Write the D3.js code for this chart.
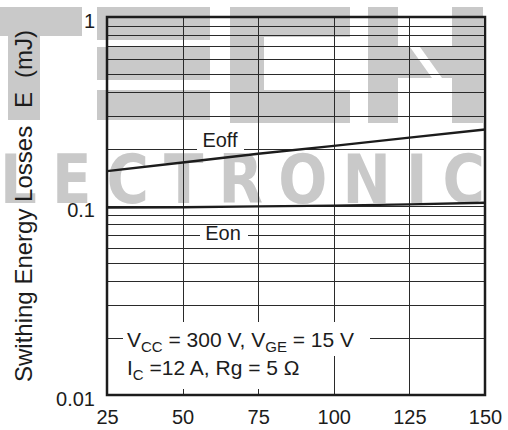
<!DOCTYPE html>
<html>
<head>
<meta charset="utf-8">
<script src="https://cdn.jsdelivr.net/npm/d3@7"></script>
<style>
  html, body { margin: 0; padding: 0; background: #fff; }
  svg { display: block; font-family: "Liberation Sans", Arial, sans-serif; }
</style>
</head>
<body>
<svg id="chart" width="508" height="430"></svg>
<script>
// Junction temperature (°C) and switching energy (mJ)
const temps = [25, 50, 75, 100, 125, 150];
const eoff  = [0.153, 0.170, 0.189, 0.208, 0.230, 0.254];
const eon   = [0.098, 0.0985, 0.0995, 0.1005, 0.102, 0.104];

const xTicks = [25, 50, 75, 100, 125, 150];
const yTicks = [0.01, 0.1, 1];
const yTickLabels = ["0.01", "0.1", "1"];

const svg = d3.select("#chart");
const plot = { left: 107, right: 485, top: 17, bottom: 395 };

const x = d3.scaleLinear().domain([25, 150]).range([plot.left, plot.right]);
const y = d3.scaleLog().domain([0.01, 1]).range([plot.bottom, plot.top]);

const ink = "#1c1c1c";
const wmColor = "#c9c9c9";

// ---- background watermark ----
const wm = svg.append("g").attr("class", "watermark").attr("fill", wmColor);
const wmBlocks = [
  // T
  [0, 7, 82, 29], [8, 36, 32, 84],
  // E
  [97, 7, 113, 33], [97, 47, 113, 33], [97, 90, 113, 30],
  // C
  [230, 7, 120, 30], [230, 37, 34, 53], [230, 90, 120, 33],
  // N
  [368, 7, 30, 116], [452, 7, 31, 116], [398, 47, 54, 31]
];
wm.selectAll("rect").data(wmBlocks).join("rect")
  .attr("x", d => d[0]).attr("y", d => d[1])
  .attr("width", d => d[2]).attr("height", d => d[3]);
wm.append("polygon").attr("fill", "#fff")
  .attr("points", "410,47 420,47 442,78 432,78");

const wmScale = 0.85;
wm.append("g").attr("transform", `translate(0,203) scale(${wmScale},1)`)
  .append("text")
  .attr("font-family", "'DejaVu Sans', sans-serif")
  .attr("font-weight", "bold")
  .attr("font-size", 68)
  .attr("textLength", 485 / wmScale)
  .attr("lengthAdjust", "spacing")
  .text("LECTRONIC");

// ---- grid ----
const grid = svg.append("g").attr("stroke", "#2a2a2a").attr("stroke-width", 1);
const hVals = y.ticks().filter(v => v > 0.0100001 && v < 0.99999);
grid.selectAll("line.h").data(hVals).join("line").attr("class", "h")
  .attr("x1", plot.left).attr("x2", plot.right)
  .attr("y1", d => Math.round(y(d)) + 0.5).attr("y2", d => Math.round(y(d)) + 0.5);
grid.selectAll("line.v").data(xTicks.slice(1, -1)).join("line").attr("class", "v")
  .attr("y1", plot.top).attr("y2", plot.bottom)
  .attr("x1", d => Math.round(x(d)) + 0.5).attr("x2", d => Math.round(x(d)) + 0.5);

// white panels behind the in-plot labels
const panels = svg.append("g").attr("fill", "#fff");
[[197, 142, 47, 10], [200, 229, 48, 14], [123, 322, 247, 34], [123, 356, 189, 33]]
  .forEach(b => panels.append("rect").attr("x", b[0]).attr("y", b[1]).attr("width", b[2]).attr("height", b[3]));

// ---- curves ----
const line = d3.line().x(d => x(d[0])).y(d => y(d[1]));
svg.append("path").datum(temps.map((t, i) => [t, eoff[i]]))
  .attr("d", line).attr("fill", "none").attr("stroke", ink).attr("stroke-width", 2.4);
svg.append("path").datum(temps.map((t, i) => [t, eon[i]]))
  .attr("d", line).attr("fill", "none").attr("stroke", ink).attr("stroke-width", 2.4);

// ---- frame ----
svg.append("rect")
  .attr("x", plot.left).attr("y", plot.top)
  .attr("width", plot.right - plot.left).attr("height", plot.bottom - plot.top)
  .attr("fill", "none").attr("stroke", ink).attr("stroke-width", 2.5);

// ---- axes ----
const xAxis = d3.axisBottom(x).tickValues(xTicks).tickSize(0).tickPadding(0);
const gx = svg.append("g").attr("transform", `translate(0,${plot.bottom})`).call(xAxis);
gx.select(".domain").remove();
gx.selectAll("text").attr("font-size", 20).attr("fill", ink)
  .attr("font-family", "'Liberation Sans', Arial, sans-serif")
  .attr("dy", null).attr("y", 29);

const yAxis = d3.axisLeft(y).tickValues(yTicks)
  .tickFormat((d, i) => yTickLabels[i]).tickSize(0).tickPadding(0);
const gy = svg.append("g").attr("transform", `translate(95,0)`).call(yAxis);
gy.select(".domain").remove();
gy.selectAll("text").attr("font-size", 20).attr("fill", ink)
  .attr("font-family", "'Liberation Sans', Arial, sans-serif")
  .attr("dy", "0.5em");

// ---- y title ----
const yt = svg.append("g").attr("fill", ink).attr("font-size", 24);
yt.append("text").attr("transform", "translate(32,382) rotate(-90)").text("Swithing Energy Losses");
yt.append("text").attr("transform", "translate(32,108) rotate(-90)").text("E");
yt.append("text").attr("transform", "translate(32,78) rotate(-90)").text("(mJ)");

// ---- curve labels ----
svg.append("text").attr("x", 220).attr("y", 147).attr("text-anchor", "middle")
  .attr("font-size", 20).attr("fill", ink).text("Eoff");
svg.append("text").attr("x", 223).attr("y", 240).attr("text-anchor", "middle")
  .attr("font-size", 20).attr("fill", ink).text("Eon");

// ---- test conditions ----
const cond = svg.append("g").attr("fill", ink).attr("font-size", 21);
const t1 = cond.append("text").attr("x", 127).attr("y", 347);
t1.append("tspan").text("V");
t1.append("tspan").attr("font-size", 15).attr("dy", 5).text("CC");
t1.append("tspan").attr("dy", -5).text(" = 300 V, V");
t1.append("tspan").attr("font-size", 15).attr("dy", 5).text("GE");
t1.append("tspan").attr("dy", -5).text(" = 15 V");
const t2 = cond.append("text").attr("x", 127).attr("y", 375);
t2.append("tspan").text("I");
t2.append("tspan").attr("font-size", 15).attr("dy", 5).text("C");
t2.append("tspan").attr("dy", -5).text(" =12 A, Rg = 5 \u03A9");
</script>
</body>
</html>
